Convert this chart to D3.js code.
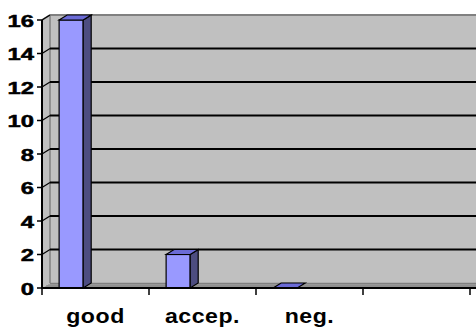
<!DOCTYPE html>
<html><head><meta charset="utf-8">
<script src="https://cdn.jsdelivr.net/npm/d3@7"></script>
<style>html,body{margin:0;padding:0;background:#fff;}svg{display:block;}</style>
</head><body>
<svg id="c" width="476" height="329"></svg>
<script>
const categories = ["good", "accep.", "neg.", ""];
const values = [16, 2, 0, null];
const yTicks = [0, 2, 4, 6, 8, 10, 12, 14, 16];

const W = 476, H = 329;
const svg = d3.select("#c");
const dx = 8, dy = -5;
const x0 = 42, x1 = 470;
const y = d3.scaleLinear().domain([0, 16]).range([288, 20]);
const x = d3.scaleBand().domain(categories).range([x0, x1]);
const bw = x.bandwidth();
const FONT = "Liberation Sans, Arial, sans-serif";

// back wall
svg.append("rect").attr("x", x0 + dx).attr("y", y(16) + dy).attr("width", W).attr("height", y(0) - y(16)).attr("fill", "#c0c0c0");
// side wall
svg.append("polygon").attr("points", [[x0, y(16)], [x0 + dx, y(16) + dy], [x0 + dx, y(0) + dy], [x0, y(0)]].join(" "))
  .attr("fill", "#c0c0c0").attr("stroke", "none");
// floor
svg.append("polygon").attr("points", [[x0, y(0)], [x0 + dx, y(0) + dy], [W + 10, y(0) + dy], [W + 10, y(0)]].join(" "))
  .attr("fill", "#a0a0a0");
svg.append("line").attr("x1", x0 + dx).attr("x2", W).attr("y1", y(0) + dy + 0.5).attr("y2", y(0) + dy + 0.5).attr("stroke", "#808080").attr("stroke-width", 1.5);
svg.append("line").attr("x1", x0 + dx/2).attr("x2", W).attr("y1", y(0) - 2).attr("y2", y(0) - 2).attr("stroke", "#808080").attr("stroke-width", 1);
// wall edges
svg.append("line").attr("x1", x0 + dx).attr("x2", x0 + dx).attr("y1", y(16) + dy).attr("y2", y(0) + dy).attr("stroke", "#808080").attr("stroke-width", 1.5);
svg.append("line").attr("x1", x0 + dx).attr("x2", W).attr("y1", y(16) + dy).attr("y2", y(16) + dy).attr("stroke", "#808080").attr("stroke-width", 2);
svg.append("line").attr("x1", x0).attr("x2", x0 + dx).attr("y1", y(16)).attr("y2", y(16) + dy).attr("stroke", "#808080").attr("stroke-width", 1.5);

// gridlines
const grid = yTicks.filter(t => t > 0 && t < 16);
svg.selectAll(".g").data(grid).enter().append("line")
  .attr("x1", x0 + dx).attr("x2", W).attr("y1", d => y(d) + dy).attr("y2", d => y(d) + dy)
  .attr("stroke", "#000").attr("stroke-width", 2);
svg.selectAll(".gs").data(yTicks.filter(t => t > 0)).enter().append("line")
  .attr("x1", x0).attr("x2", x0 + dx).attr("y1", d => y(d)).attr("y2", d => y(d) + dy)
  .attr("stroke", "#000").attr("stroke-width", 1.2);

// bars
const bOff = 0.16 * bw, bW = 0.225 * bw;
const data = categories.map((c, i) => ({c, v: values[i]})).filter(d => d.v !== null);
const bars = svg.selectAll(".bar").data(data).enter().append("g");
bars.each(function(d) {
  const g = d3.select(this);
  const bx = x(d.c) + bOff, top = y(d.v), bot = y(0);
  if (d.v > 0) {
    g.append("rect").attr("x", bx).attr("y", top).attr("width", bW).attr("height", bot - top)
      .attr("fill", "#9999ff").attr("stroke", "#000").attr("stroke-width", 1.2);
    g.append("polygon").attr("points", [[bx + bW, top], [bx + bW + dx, top + dy], [bx + bW + dx, bot + dy], [bx + bW, bot]].join(" "))
      .attr("fill", "#4d4d80").attr("stroke", "#000").attr("stroke-width", 1.2);
  }
  g.append("polygon").attr("points", [[bx, top], [bx + dx, top + dy], [bx + bW + dx, top + dy], [bx + bW, top]].join(" "))
    .attr("fill", "#6b6bd6").attr("stroke", "#000").attr("stroke-width", 1.2);
});

// axes
svg.append("line").attr("x1", x0).attr("x2", x0).attr("y1", y(16)).attr("y2", y(0)).attr("stroke", "#000").attr("stroke-width", 2);
svg.append("line").attr("x1", x0 - 1).attr("x2", W).attr("y1", y(0)).attr("y2", y(0)).attr("stroke", "#000").attr("stroke-width", 2);
svg.selectAll(".yt").data(yTicks).enter().append("line")
  .attr("x1", x0 - 5).attr("x2", x0).attr("y1", d => y(d)).attr("y2", d => y(d)).attr("stroke", "#000").attr("stroke-width", 1.5);
svg.selectAll(".yl").data(yTicks).enter().append("text")
  .attr("transform", d => `translate(34,${y(d) + 6.5}) scale(1.4,1)`)
  .attr("text-anchor", "end")
  .attr("font-family", FONT).attr("font-weight", "bold").attr("font-size", 17)
  .attr("stroke", "#000").attr("stroke-width", 0.5)
  .text(d => d);
const xt = categories.map(c => x(c)).concat([x1]);
svg.selectAll(".xt").data(xt).enter().append("line")
  .attr("x1", d => d).attr("x2", d => d).attr("y1", y(0)).attr("y2", y(0) + 7).attr("stroke", "#000").attr("stroke-width", 1.5);
svg.selectAll(".xl").data(categories).enter().append("text")
  .attr("transform", d => `translate(${x(d) + bw / 2},323) scale(1.1,1)`)
  .attr("text-anchor", "middle")
  .attr("font-family", FONT).attr("font-weight", "bold").attr("font-size", 21)
  .attr("letter-spacing", 0.5).text(d => d);
</script>
</body></html>
